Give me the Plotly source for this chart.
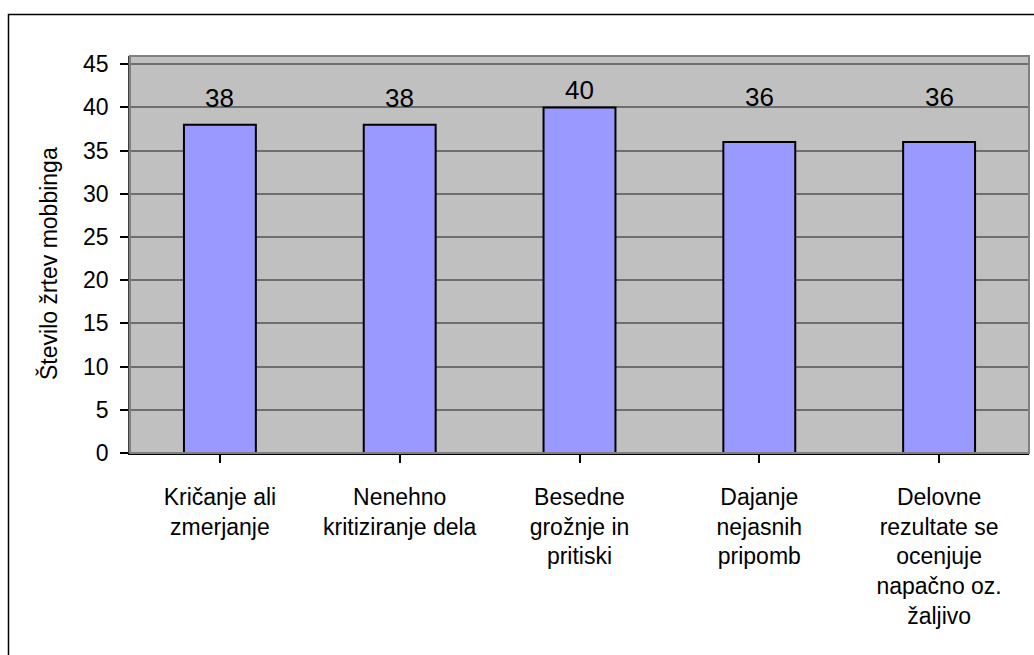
import plotly.graph_objects as go

categories = [
    "Kričanje ali<br>zmerjanje",
    "Nenehno<br>kritiziranje dela",
    "Besedne<br>grožnje in<br>pritiski",
    "Dajanje<br>nejasnih<br>pripomb",
    "Delovne<br>rezultate se<br>ocenjuje<br>napačno oz.<br>žaljivo",
]
values = [38, 38, 40, 36, 36]
y_ticks = [0, 5, 10, 15, 20, 25, 30, 35, 40, 45]
y_title = "Število žrtev mobbinga"

# style: pixel offsets of the value labels above the bar tops (as placed in the original)
label_offsets = [10, 10, 0, 28, 28]

W, H = 1034, 655
L, R, T, B = 130, 5, 56, 202
pw, ph = W - L - R, H - T - B

FONT = "Arial, Liberation Sans, sans-serif"

fig = go.Figure(go.Bar(
    x=list(range(len(categories))),
    y=values,
    width=0.4,
    marker=dict(color="#9999FF", line=dict(color="#000000", width=2)),
    hoverinfo="skip",
))

for i, v in enumerate(values):
    fig.add_annotation(x=i, y=v, text=str(v), showarrow=False, yanchor="bottom",
                       yshift=label_offsets[i], font=dict(family=FONT, size=26, color="#000000"))

def px_x(p):
    return (p - L) / pw

def px_y(p):
    return (H - B - p) / ph

# y-axis title
fig.add_annotation(xref="paper", yref="paper", x=px_x(48), y=px_y(264),
                   text=y_title, textangle=-90, showarrow=False,
                   xanchor="center", yanchor="middle",
                   font=dict(family=FONT, size=23, color="#000000"))

shapes = [
    # outer chart border
    dict(type="rect", xref="paper", yref="paper",
         x0=px_x(8.5), x1=px_x(1045), y0=px_y(14.5), y1=px_y(720),
         line=dict(color="#000000", width=1.5), layer="below"),
    # plot area border
    dict(type="rect", xref="paper", yref="paper", x0=0, x1=1, y0=0, y1=1,
         line=dict(color="#808080", width=2), layer="above"),
]

fig.update_layout(
    width=W, height=H,
    margin=dict(l=L, r=R, t=T, b=B, pad=0),
    paper_bgcolor="#FFFFFF",
    plot_bgcolor="#C0C0C0",
    showlegend=False,
    font=dict(family=FONT, color="#000000"),
    shapes=shapes,
    bargap=0.6,
    xaxis=dict(
        tickmode="array",
        tickvals=list(range(len(categories))),
        ticktext=categories,
        range=[-0.5, len(categories) - 0.5],
        tickson="boundaries",
        ticks="outside", ticklen=8, tickwidth=1.5, tickcolor="#000000",
        showline=True, linecolor="#000000", linewidth=2,
        showgrid=False, zeroline=False,
        tickfont=dict(family=FONT, size=23, color="#000000"),
        ticklabelstandoff=14,
        tickangle=0,
    ),
    yaxis=dict(
        range=[0, 45.95],
        tickmode="array", tickvals=y_ticks, ticktext=[str(t) for t in y_ticks],
        ticks="outside", ticklen=8, tickwidth=1.5, tickcolor="#000000",
        showline=True, linecolor="#404040", linewidth=1.5,
        showgrid=True, gridcolor="#6E6E6E", gridwidth=1.5,
        zeroline=False,
        tickfont=dict(family=FONT, size=23, color="#000000"),
        ticklabelstandoff=7,
    ),
)

fig.write_html("out.html")
